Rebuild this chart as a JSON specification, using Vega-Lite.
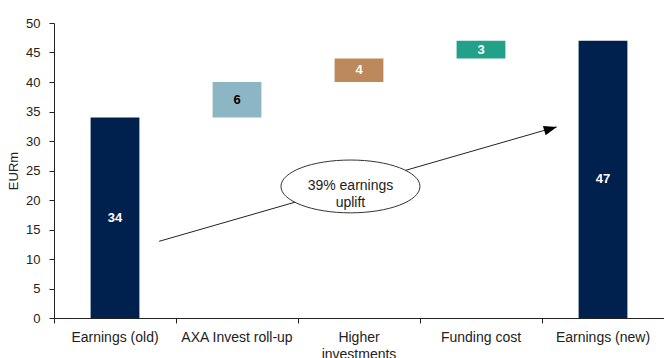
{
  "$schema": "https://vega.github.io/schema/vega-lite/v6.json",
  "width": 610,
  "height": 295,
  "autosize": {"type": "none"},
  "padding": {"left": 54, "top": 23, "right": 0, "bottom": 40},
  "background": "#ffffff",
  "config": {
    "view": {"stroke": null},
    "font": "Liberation Sans",
    "axis": {
      "grid": false,
      "ticks": true,
      "domainColor": "#222222",
      "tickColor": "#222222",
      "labelColor": "#222222",
      "titleColor": "#222222",
      "tickSize": 5,
      "labelFont": "Liberation Sans",
      "titleFont": "Liberation Sans",
      "titleFontWeight": "normal"
    }
  },
  "datasets": {
    "steps": [
      {"cat": "Earnings (old)", "start": 0, "end": 34, "amount": 34},
      {"cat": "AXA Invest roll-up", "start": 34, "end": 40, "amount": 6},
      {"cat": "Higher investments", "start": 40, "end": 44, "amount": 4},
      {"cat": "Funding cost", "start": 44, "end": 47, "amount": 3},
      {"cat": "Earnings (new)", "start": 0, "end": 47, "amount": 47}
    ],
    "arrow": [
      {"px": 0.862, "py": 13.0},
      {"px": 4.12, "py": 32.4}
    ],
    "head": [
      {"px": 4.07, "py": 32.07}
    ],
    "bubble": [
      {"px": 2.43, "py": 22.3, "note": "39% earnings\nuplift"}
    ]
  },
  "layer": [
    {
      "data": {"name": "steps"},
      "layer": [
        {
          "mark": {"type": "bar", "width": {"band": 0.4}},
          "encoding": {
            "x": {
              "field": "cat",
              "type": "nominal",
              "sort": ["Earnings (old)", "AXA Invest roll-up", "Higher investments", "Funding cost", "Earnings (new)"],
              "scale": {"paddingInner": 0, "paddingOuter": 0},
              "axis": {
                "title": null,
                "labelAngle": 0,
                "ticks": true,
                "bandPosition": 0,
                "labelFontSize": 14,
                "labelPadding": 7,
                "labelLineHeight": 17,
                "labelLimit": 200,
                "labelExpr": "datum.value == 'Higher investments' ? ['Higher', 'investments'] : datum.value"
              }
            },
            "y": {
              "field": "start",
              "type": "quantitative",
              "title": "EURm",
              "scale": {"domain": [0, 50], "nice": false},
              "axis": {
                "values": [0, 5, 10, 15, 20, 25, 30, 35, 40, 45, 50],
                "labelOverlap": false,
                "labelFontSize": 13,
                "labelPadding": 9,
                "titleFontSize": 13,
                "titlePadding": 5
              }
            },
            "y2": {"field": "end"},
            "color": {
              "field": "cat",
              "type": "nominal",
              "scale": {
                "domain": ["Earnings (old)", "AXA Invest roll-up", "Higher investments", "Funding cost", "Earnings (new)"],
                "range": ["#00214d", "#8db6c4", "#bd885b", "#22a089", "#00214d"]
              },
              "legend": null
            }
          }
        },
        {
          "transform": [
            {"fold": ["start", "end"], "as": ["k", "v"]},
            {"aggregate": [{"op": "mean", "field": "v", "as": "mid"}], "groupby": ["cat", "amount"]}
          ],
          "mark": {"type": "text", "fontSize": 13, "fontWeight": "bold", "baseline": "middle", "align": "center"},
          "encoding": {
            "x": {
              "field": "cat",
              "type": "nominal",
              "sort": ["Earnings (old)", "AXA Invest roll-up", "Higher investments", "Funding cost", "Earnings (new)"],
              "axis": null
            },
            "y": {"field": "mid", "type": "quantitative", "axis": null},
            "text": {"field": "amount", "type": "quantitative"},
            "color": {
              "condition": {"test": "datum.cat === 'AXA Invest roll-up'", "value": "#000000"},
              "value": "#ffffff"
            }
          }
        }
      ],
      "resolve": {"axis": {"y": "independent", "x": "independent"}}
    },
    {
      "layer": [
        {
          "data": {"name": "arrow"},
          "mark": {"type": "line", "color": "#222222", "strokeWidth": 1},
          "encoding": {
            "x": {"field": "px", "type": "quantitative", "scale": {"domain": [0, 5], "nice": false}, "axis": null},
            "y": {"field": "py", "type": "quantitative", "axis": null}
          }
        },
        {
          "data": {"name": "bubble"},
          "mark": {
            "type": "point",
            "shape": "M-1,0A1,0.38,0,1,1,1,0A1,0.38,0,1,1,-1,0Z",
            "size": 19321,
            "filled": true,
            "fill": "#ffffff",
            "stroke": "#333333",
            "strokeWidth": 1,
            "opacity": 1
          },
          "encoding": {
            "x": {"field": "px", "type": "quantitative", "axis": null},
            "y": {"field": "py", "type": "quantitative", "axis": null}
          }
        },
        {
          "data": {"name": "head"},
          "mark": {
            "type": "point",
            "shape": "M1,0L-1,-0.75L-1,0.75Z",
            "size": 169,
            "angle": -16,
            "filled": true,
            "color": "#000000",
            "opacity": 1
          },
          "encoding": {
            "x": {"field": "px", "type": "quantitative", "axis": null},
            "y": {"field": "py", "type": "quantitative", "axis": null}
          }
        },
        {
          "data": {"name": "bubble"},
          "mark": {
            "type": "text",
            "lineBreak": "\n",
            "fontSize": 14,
            "lineHeight": 17,
            "align": "center",
            "baseline": "middle",
            "color": "#222222"
          },
          "encoding": {
            "x": {"field": "px", "type": "quantitative", "axis": null},
            "y": {"field": "py", "type": "quantitative", "axis": null},
            "text": {"field": "note", "type": "nominal"}
          }
        }
      ]
    }
  ],
  "resolve": {"scale": {"x": "independent"}, "axis": {"y": "independent", "x": "independent"}}
}
